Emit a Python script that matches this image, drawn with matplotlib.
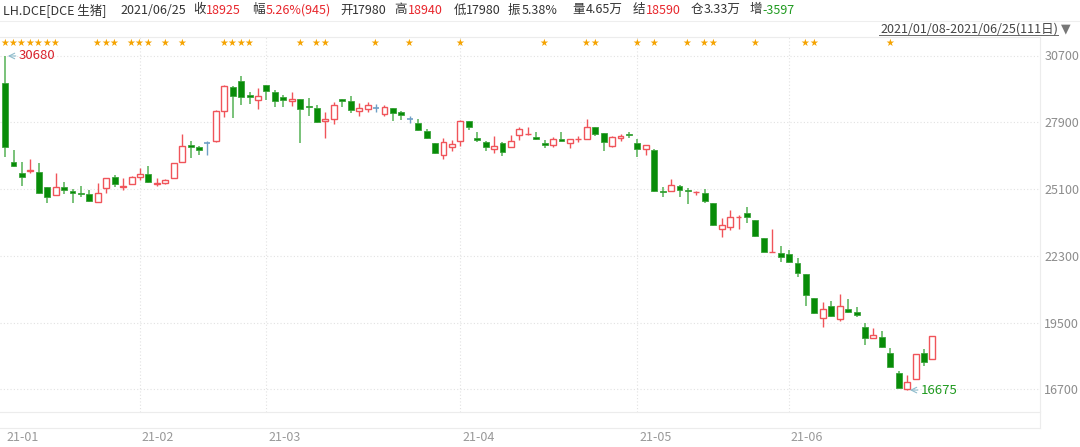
import numpy as np
import pandas as pd
import matplotlib
matplotlib.use('Agg')
import matplotlib.pyplot as plt
from matplotlib.transforms import blended_transform_factory
from matplotlib.lines import Line2D

plt.rcParams['font.family'] = ['Noto Sans CJK SC', 'DejaVu Sans']

# LH.DCE daily candles, 2021/01/08 - 2021/06/25
opens = [29535, 26235, 25774, 25870, 25804, 25175, 24852, 25200, 25020, 24925,
         24894, 24546, 25133, 25619, 25190, 25313, 25619, 25720, 25330, 25368,
         25552, 26248, 26936, 26865, 27019, 27128, 28386, 29367, 29618, 29031,
         28835, 29463, 29170, 28960, 28780, 28889, 28570, 28487, 27942, 28026,
         28889, 28793, 28386, 28445, 28487, 28248, 28487, 28319, 28026, 27870,
         27535, 27019, 26529, 26877, 27128, 27967, 27254, 27074, 26768, 27019,
         26877, 27355, 27400, 27296, 27045, 26936, 27187, 27045, 27180, 27212,
         27690, 27438, 26919, 27229, 27400, 27019, 26768, 26738, 25000, 25032,
         25229, 25050, 24970, 24949, 24529, 23427, 23523, 23930, 24085, 23804,
         23037, 22460, 22434, 22379, 21989, 21540, 20522, 19683, 20212, 19641,
         20073, 19948, 19331, 18845, 18912, 18216, 17403, 16720, 17139, 18216,
         17980]
highs = [30680, 26739, 26235, 26361, 26181, 25175, 25787, 25410, 25090, 25229,
         25062, 25343, 25577, 25690, 25552, 25649, 25997, 26068, 25552, 25510,
         26181, 27409, 27116, 26894, 27116, 28415, 29463, 29421, 29841, 29157,
         29338, 29463, 29254, 29031, 29157, 28889, 28906, 28625, 28344, 28763,
         28889, 29015, 28721, 28763, 28654, 28625, 28487, 28386, 28177, 28026,
         27606, 27019, 27229, 27158, 27996, 27967, 27506, 27128, 27338, 27086,
         27367, 27715, 27715, 27506, 27158, 27271, 27506, 27187, 27325, 28026,
         27690, 27464, 27325, 27396, 27506, 27187, 26948, 26768, 25200, 25510,
         25271, 25133, 25032, 25090, 24529, 23876, 24223, 24013, 24336, 23804,
         23037, 23427, 22714, 22546, 22199, 21540, 20522, 20379, 20408, 20689,
         20480, 20170, 19499, 19290, 19151, 18426, 17487, 17307, 18174, 18384,
         18940]
lows = [26433, 26040, 25242, 25762, 24894, 24504, 24852, 24894, 24504, 24781,
        24546, 24546, 24949, 25200, 25062, 25300, 25481, 25343, 25242, 25300,
        25552, 26248, 26416, 26529, 26529, 27086, 28135, 28067, 28625, 28654,
        28457, 28835, 28554, 28554, 28583, 27045, 28164, 27858, 27229, 27829,
        28529, 28302, 28164, 28344, 28319, 28164, 27954, 27996, 27858, 27548,
        27212, 26558, 26361, 26697, 26906, 27577, 27086, 26697, 26626, 26500,
        26852, 27158, 27380, 27158, 26810, 26852, 27128, 26810, 27074, 27212,
        27338, 26710, 26877, 27116, 27229, 26458, 26529, 24990, 24781, 25032,
        24756, 24462, 24852, 24529, 23553, 23104, 23385, 23427, 23666, 23104,
        22450, 22460, 22056, 21989, 21427, 20199, 19865, 19331, 19750, 19583,
        19893, 19750, 18564, 18845, 18426, 17629, 16749, 16675, 17139, 17696,
        17980]
closes = [26852, 26068, 25594, 25890, 24923, 24781, 25175, 25062, 24950, 24900,
          24601, 24924, 25577, 25313, 25210, 25607, 25720, 25410, 25345, 25468,
          26181, 26919, 26865, 26739, 27019, 28373, 29421, 29002, 28948, 28960,
          28990, 29224, 28780, 28822, 28864, 28445, 28550, 27900, 28051, 28612,
          28793, 28415, 28487, 28612, 28487, 28529, 28302, 28193, 28026, 27564,
          27229, 26600, 27061, 26990, 27967, 27715, 27158, 26852, 26919, 26655,
          27116, 27606, 27430, 27200, 26948, 27187, 27128, 27187, 27210, 27715,
          27409, 27061, 27271, 27338, 27380, 26768, 26948, 25032, 24980, 25271,
          25062, 25030, 24980, 24613, 23582, 23582, 23917, 23950, 23917, 23146,
          22450, 22470, 22266, 22031, 21570, 20660, 19893, 20061, 19792, 20212,
          19960, 19810, 18845, 18983, 18493, 17629, 16749, 17026, 18174, 17864,
          18925]

holidays = ['2021-02-11', '2021-02-12', '2021-02-15', '2021-02-16', '2021-02-17',
            '2021-04-05', '2021-05-03', '2021-05-04', '2021-05-05', '2021-06-14']
star_days = [0, 1, 2, 3, 4, 5, 6, 11, 12, 13, 15, 16, 17, 19, 21, 26, 27, 28, 29,
             35, 37, 38, 44, 48, 54, 64, 69, 70, 75, 77, 81, 83, 84, 89, 95, 96, 105]
yticks = [16700, 19500, 22300, 25100, 27900, 30700]

header = [
    (3, 'LH.DCE[DCE 生猪]', '#333333'),
    (120, '2021/06/25', '#333333'),
    (193, '收', '#333333'), (206, '18925', '#e8272d'),
    (252, '幅', '#333333'), (266, '5.26%(945)', '#e8272d'),
    (340, '开', '#333333'), (352, '17980', '#333333'),
    (394, '高', '#333333'), (408, '18940', '#e8272d'),
    (454, '低', '#333333'), (466, '17980', '#333333'),
    (508, '振', '#333333'), (522, '5.38%', '#333333'),
    (572, '量', '#333333'), (586, '4.65万', '#333333'),
    (633, '结', '#333333'), (646, '18590', '#e8272d'),
    (691, '仓', '#333333'), (704, '3.33万', '#333333'),
    (750, '增', '#333333'), (762, '-3597', '#1f9a1f'),
]

dates = pd.bdate_range('2021-01-08', '2021-06-25')
dates = dates[~dates.isin(pd.to_datetime(holidays))]
o = np.array(opens); h = np.array(highs); l = np.array(lows); c = np.array(closes)
n = len(o)
x = np.arange(n)
months = pd.Series(dates.strftime('%y-%m'))
month_pos = months.drop_duplicates().index.tolist()
month_lab = months.drop_duplicates().tolist()

W, H = 1080, 447
fig = plt.figure(figsize=(W / 100, H / 100), dpi=100)
ax = fig.add_axes([0, (H - 412) / H, 1040 / W, 375 / H])

px = 41.92  # price per pixel
ax.set_ylim(30700 - (412 - 55.5) * px, 30700 + (55.5 - 37) * px)
ax.set_xlim(-0.605, 122.76)

RED = '#f0545a'
GREEN = '#088c08'
GWICK = '#62b862'
BLUE = '#6f9fc6'
bw = 0.7

up = c > o
dn = c < o
eq = c == o

# red (hollow) candles
top = np.maximum(o, c); bot = np.minimum(o, c)
ax.vlines(x[up], top[up], h[up], color=RED, lw=1, zorder=2)
ax.vlines(x[up], l[up], bot[up], color=RED, lw=1, zorder=2)
ax.bar(x[up], (c - o)[up], bottom=o[up], width=bw, facecolor='white',
       edgecolor=RED, lw=1, zorder=3)
# green (filled) candles
ax.vlines(x[dn], l[dn], h[dn], color=GWICK, lw=1.2, zorder=2)
ax.bar(x[dn], (o - c)[dn], bottom=c[dn], width=bw, facecolor=GREEN,
       edgecolor='#3aa33a', lw=0.6, zorder=3)
# flat candles
ax.vlines(x[eq], l[eq], h[eq], color=BLUE, lw=1, zorder=2)
ax.hlines(c[eq], x[eq] - bw / 2, x[eq] + bw / 2, color=BLUE, lw=1.2, zorder=3)

# grid
for yv in yticks:
    ax.axhline(yv, color='#e2e2e2', lw=0.8, ls=(0, (1, 2)), zorder=0)
for mp in month_pos[1:]:
    ax.axvline(mp, color='#e2e2e2', lw=0.8, ls=(0, (1, 2)), zorder=0)

ax.yaxis.tick_right()
ax.set_yticks(yticks)
ax.set_yticklabels([str(v) for v in yticks])
ax.tick_params(axis='y', length=0, pad=3, labelsize=9, labelcolor='#8c8c8c')
ax.set_xticks([])
for s in ['left']:
    ax.spines[s].set_visible(False)
for s in ['top', 'bottom', 'right']:
    ax.spines[s].set_color('#ececec')
    ax.spines[s].set_linewidth(0.8)

tr = blended_transform_factory(ax.transData, ax.transAxes)
for mp, lab in zip(month_pos, month_lab):
    ax.text(mp + 0.2, -0.067, lab, transform=tr, ha='left', va='center',
            fontsize=9, color='#999999')
for sd in star_days:
    ax.text(sd - 0.1, 0.984, '★', transform=tr, ha='center', va='center',
            fontsize=7, color='#f5a300', family=['DejaVu Sans'])

# high / low markers
hi = int(np.argmax(h)); lo = int(np.argmin(l))
ax.annotate('', xy=(hi, h[hi]), xytext=(hi + 1.6, h[hi]),
            arrowprops=dict(arrowstyle='->', color='#8fbccc', lw=0.8))
ax.text(hi + 1.6, h[hi], str(h[hi]), color='#d8202a', fontsize=9.5,
        ha='left', va='center')
ax.annotate('', xy=(lo, l[lo]), xytext=(lo + 1.6, l[lo]),
            arrowprops=dict(arrowstyle='->', color='#8fbccc', lw=0.8))
ax.text(lo + 1.6, l[lo], str(l[lo]), color='#1f9a1f', fontsize=9.5,
        ha='left', va='center')

# header
for hx, s, col in header:
    fig.text(hx / W, 1 - 10 / H, s, color=col, fontsize=9, ha='left', va='center')
fig.add_artist(Line2D([0, 1], [1 - 21 / H, 1 - 21 / H], color='#eeeeee', lw=0.8))
fig.text(1058 / W, 1 - 29 / H, '2021/01/08-2021/06/25(111日)', color='#444444',
         fontsize=9, ha='right', va='center')
fig.add_artist(Line2D([879 / W, 1058 / W], [1 - 35 / H, 1 - 35 / H], color='#666666', lw=0.7))
fig.text(1061 / W, 1 - 29 / H, '▼', color='#777777', fontsize=9, ha='left',
         va='center', family=['DejaVu Sans'])
fig.add_artist(Line2D([0, 1040 / W], [1 - 428 / H, 1 - 428 / H], color='#ececec', lw=0.8))
fig.add_artist(Line2D([1040 / W, 1040 / W], [1 - 428 / H, 1 - 412 / H], color='#ececec', lw=0.8))

fig.savefig('out.png', dpi=100)
